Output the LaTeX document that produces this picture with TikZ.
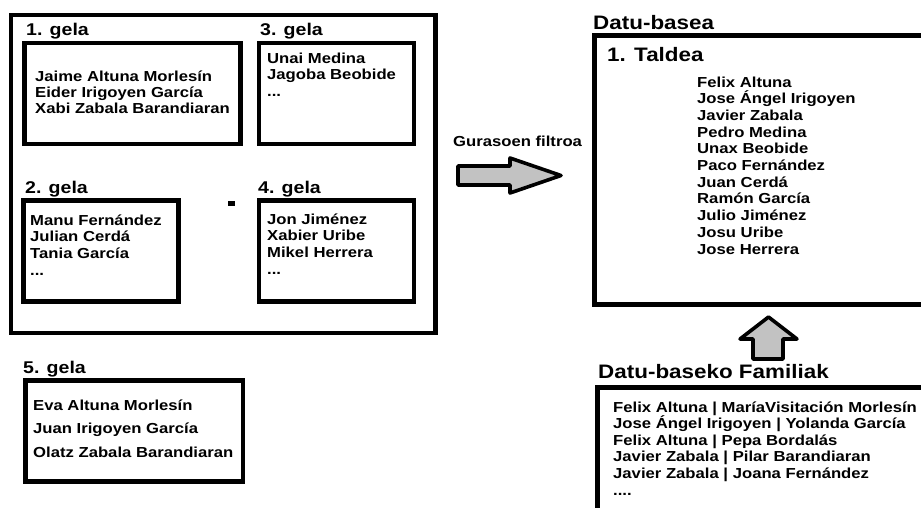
\documentclass[tikz,border=0pt]{standalone}
\usepackage{fontspec}
\setmainfont{Liberation Sans}[FakeStretch=1.15]
\newcommand\txtblock[2]{\vtop{\baselineskip=#1pt\lineskiplimit=-30pt\lineskip=0pt\halign{##\hfil\cr#2\crcr}}}
\begin{document}
\begin{tikzpicture}[x=1pt,y=-1pt,
  box/.style={draw=black, line width=4.8pt},
  blockarrow/.style={draw=black, fill=black!24, line width=3.6pt, line join=round},
  txt/.style={inner sep=0pt, anchor=base west, font=\fontsize{14.5}{16.6}\selectfont\bfseries},
  lab/.style={inner sep=0pt, anchor=base west, font=\fontsize{17}{19}\selectfont\bfseries},
  biglab/.style={inner sep=0pt, anchor=base west, font=\fontsize{19.5}{22}\selectfont\bfseries}]
\useasboundingbox (0,0) rectangle (921,507);
\clip (0,0) rectangle (921,507);
% outer box
\draw[box] (11,15) rectangle (435.5,333);
% 1. gela
\node[lab] (l1) at (26,35) {1. gela};
\draw[box] (24.5,43) rectangle (240.5,144);
\node[txt] (t1) at (35,81) {\txtblock{16.2}{Jaime Altuna Morlesín\cr Eider Irigoyen García\cr Xabi Zabala Barandiaran}};
% 3. gela
\node[lab] (l3) at (260,35) {3. gela};
\draw[box] (259,43) rectangle (414,144);
\node[txt] (t3) at (267,63) {\txtblock{16.7}{Unai Medina\cr Jagoba Beobide\cr ...}};
% 2. gela
\node[lab] (l2) at (25,193) {2. gela};
\draw[box] (23.5,200.5) rectangle (178.5,301.5);
\node[txt] (t2) at (30,225) {\txtblock{16.7}{Manu Fernández\cr Julian Cerdá\cr Tania García\cr ...}};
% dot
\fill (227.5,200.5) rectangle (234.5,206);
% 4. gela
\node[lab] (l4) at (258,193) {4. gela};
\draw[box] (259,200.5) rectangle (414,301.5);
\node[txt] (t4) at (267,224) {\txtblock{16.7}{Jon Jiménez\cr Xabier Uribe\cr Mikel Herrera\cr ...}};
% 5. gela
\node[lab] (l5) at (23,373) {5. gela};
\draw[box] (25.5,380.5) rectangle (243,481.5);
\node[txt] (t5) at (33,410) {\txtblock{23.5}{Eva Altuna Morlesín\cr Juan Irigoyen García\cr Olatz Zabala Barandiaran}};
% filter arrow
\node[txt] (gf) at (453,146) {Gurasoen filtroa};
\draw[blockarrow] (458,166) -- (510,166) -- (510,158) -- (561,175.5) -- (510,193) -- (510,185) -- (458,185) -- cycle;
% Datu-basea
\node[biglab] (db) at (593,29) {Datu-basea};
\draw[box] (594.5,35.5) rectangle (923,304.5);
\node[biglab] (tal) at (607,61) {1. Taldea};
\node[txt] (names) at (697,87) {\txtblock{16.7}{Felix Altuna\cr Jose Ángel Irigoyen\cr Javier Zabala\cr Pedro Medina\cr Unax Beobide\cr Paco Fernández\cr Juan Cerdá\cr Ramón García\cr Julio Jiménez\cr Josu Uribe\cr Jose Herrera}};
% up arrow
\draw[blockarrow] (768.5,317) -- (797,339) -- (783,339) -- (783,359) -- (753,359) -- (753,339) -- (740,339) -- cycle;
% Familiak
\node[biglab] (fam) at (598,378) {Datu-baseko Familiak};
\draw[box] (597.5,387.5) rectangle (930,520);
\node[txt] (famt) at (613,412) {\txtblock{16.6}{Felix Altuna | MaríaVisitación Morlesín\cr Jose Ángel Irigoyen | Yolanda García\cr Felix Altuna | Pepa Bordalás\cr Javier Zabala | Pilar Barandiaran\cr Javier Zabala | Joana Fernández\cr ....}};
\end{tikzpicture}
\end{document}
